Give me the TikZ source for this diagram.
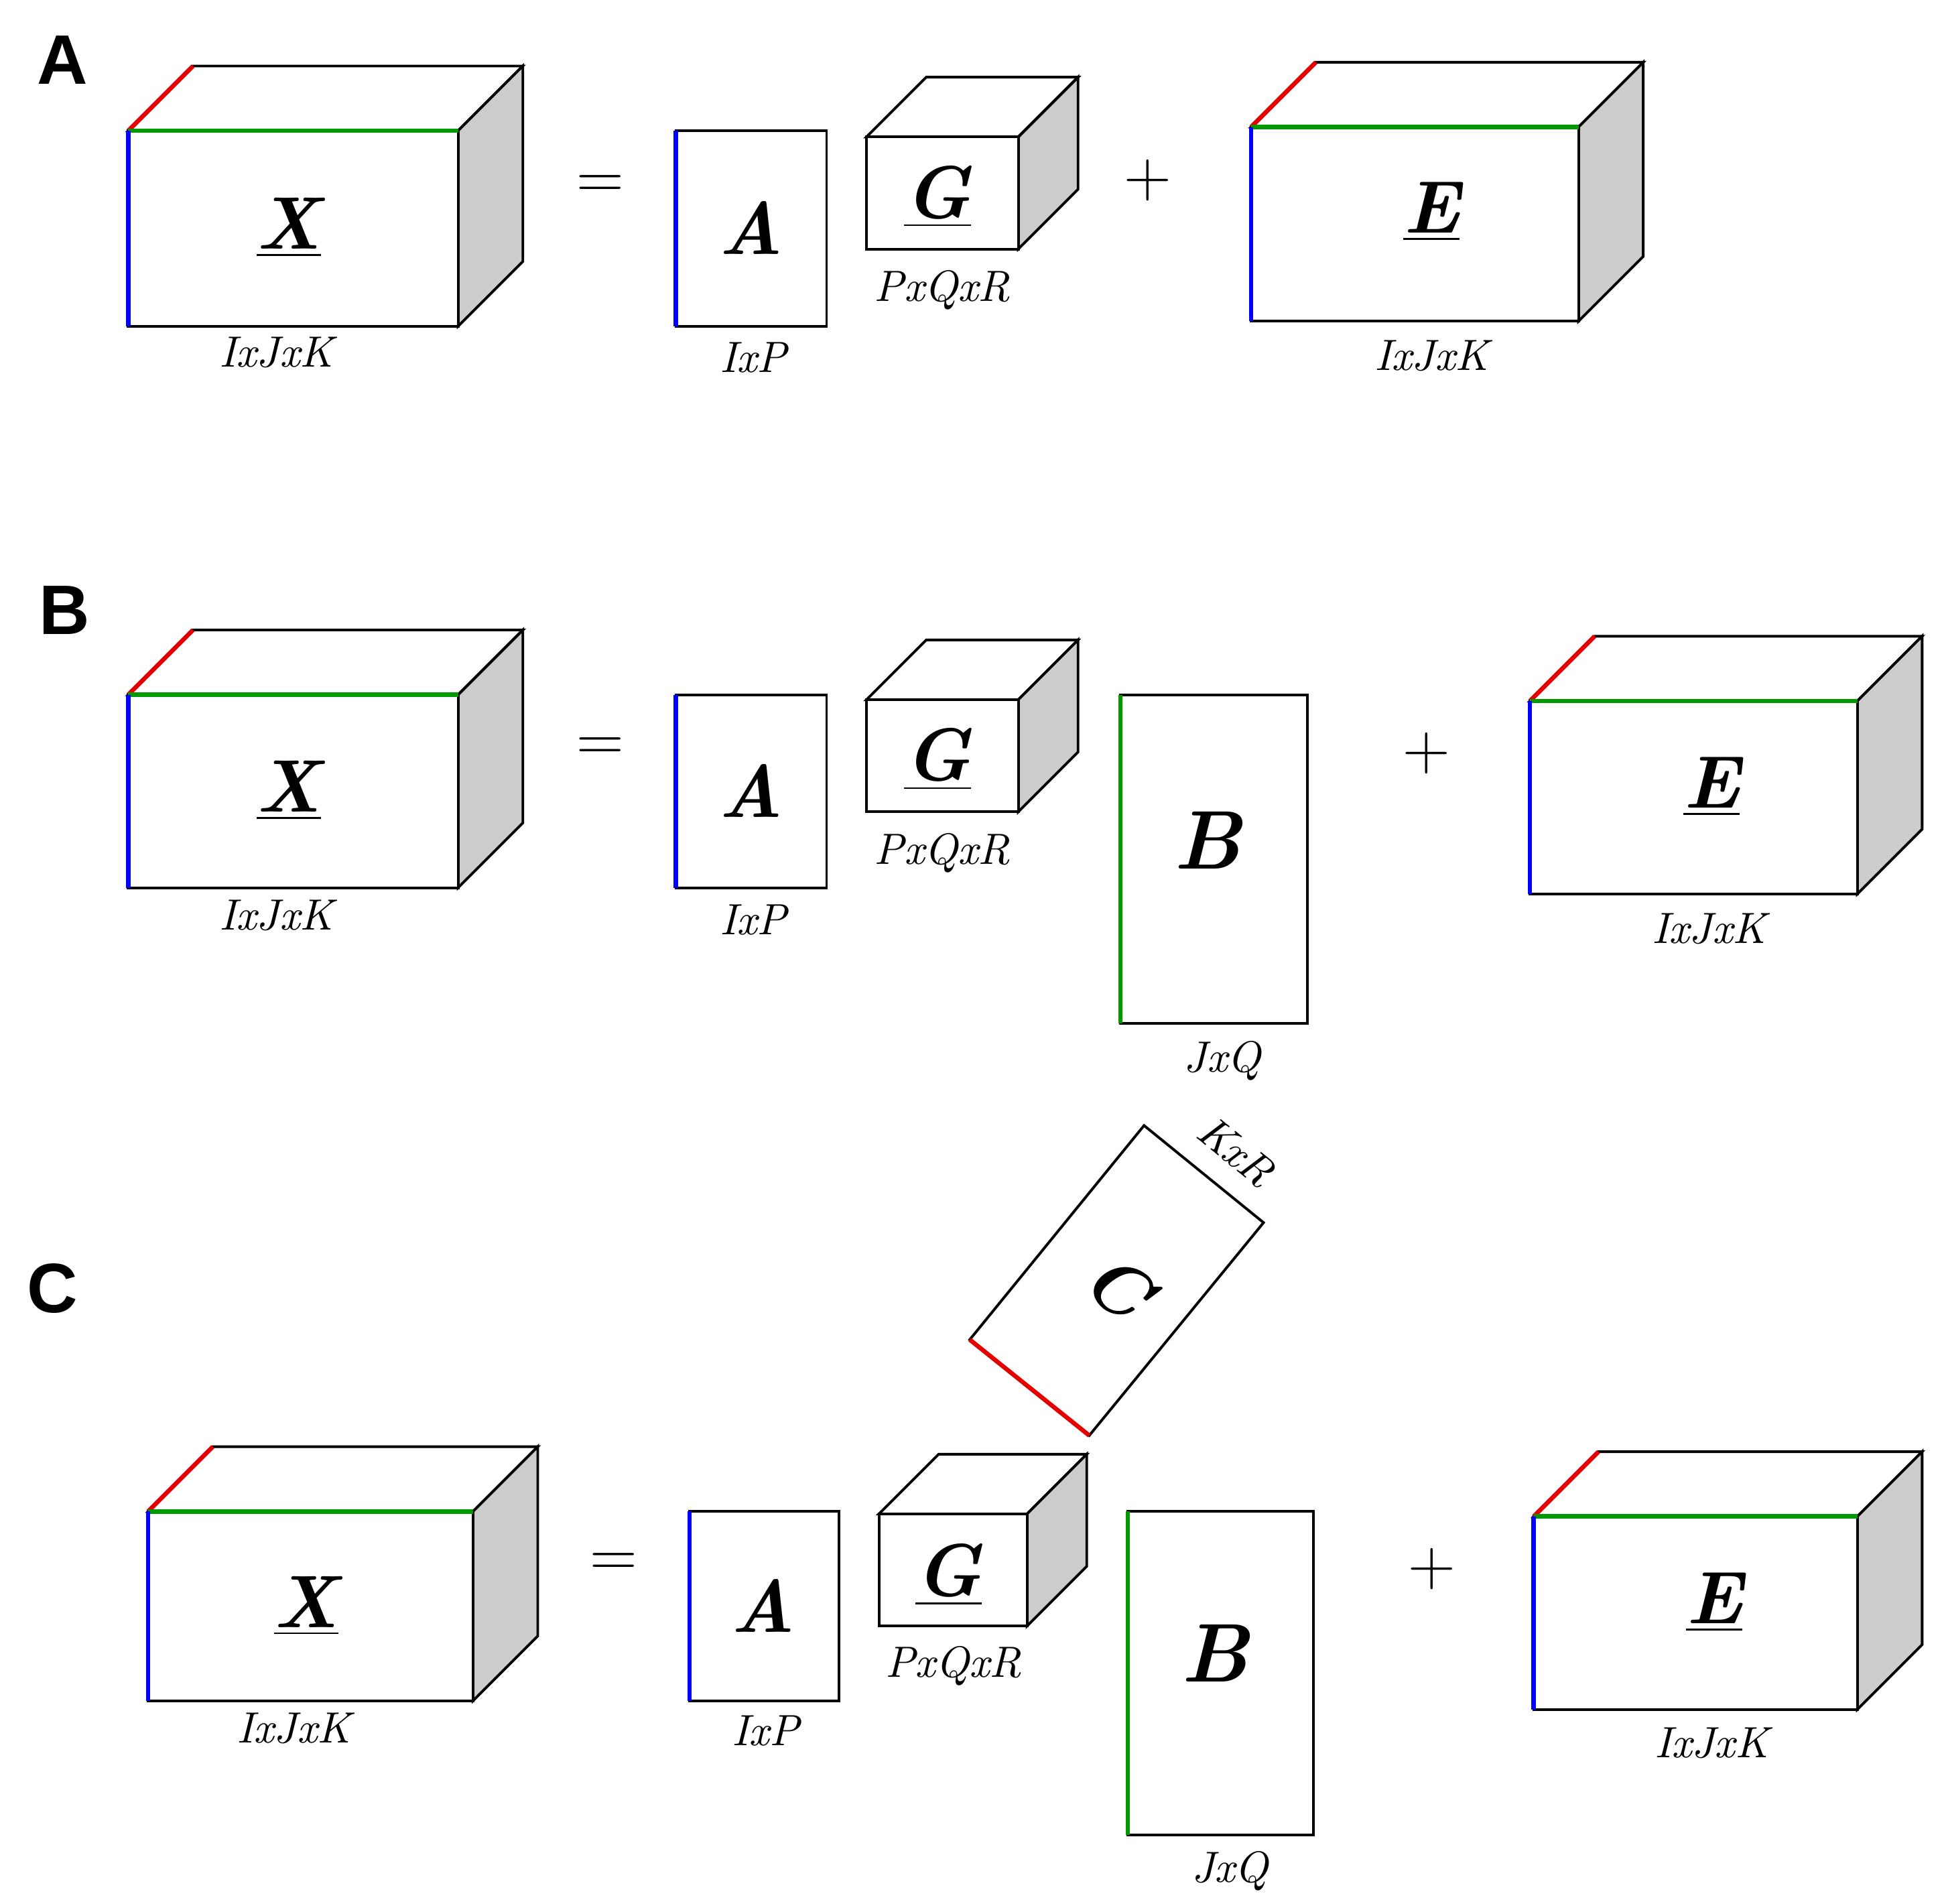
\documentclass[tikz,border=0pt]{standalone}
\usepackage{fontspec}
\newfontfamily\sansf{Liberation Sans}
\begin{document}
\begin{tikzpicture}[x=0.01cm,y=-0.01cm,line width=0.6pt,
  dim/.style={font=\fontsize{10}{12}\selectfont\itshape},
  big/.style={font=\fontsize{17}{20}\selectfont\bfseries\itshape},
  pan/.style={font=\fontsize{16}{19}\selectfont\sansf\bfseries},
  op/.style={font=\fontsize{15}{18}\selectfont},
  cr/.style={line width=1pt,red!90!black},
  cg/.style={line width=1pt,green!60!black},
  cb/.style={line width=1pt,blue}]
\useasboundingbox (0,0) rectangle (1560,1529);
\newcommand\mycube[5]{%
  \draw[fill=white] (#1,#2) -- ++(#5,-#5) -- ++(#3,0) -- ++(-#5,#5) -- cycle;
  \draw[fill=gray!40] ({#1+#3},#2) -- ++(#5,-#5) -- ++(0,#4) -- ++(-#5,#5) -- cycle;
  \draw[fill=white] (#1,#2) rectangle ++(#3,#4);}
\newcommand\colcube[5]{\mycube{#1}{#2}{#3}{#4}{#5}%
  \draw[cr] (#1,#2) -- ++(#5,-#5);
  \draw[cg] (#1,#2) -- ++(#3,0);
  \draw[cb] (#1,#2) -- ++(0,#4);}
% ---------- A
\node[pan] (pa) at (50,48) {A};
\colcube{103}{105}{265}{157}{52}
\node[big] (xa) at (232,183) {\underline{X}};
\node[dim] (xda) at (222,283) {IxJxK};
\node[op] (eqa) at (482,150) {=};
\draw (543,105) rectangle (664,262); \draw[cb] (543,105) -- (543,262);
\node[big] (aa) at (603,183) {A};
\node[dim] (ada) at (605,287) {IxP};
\mycube{696}{110}{122}{90}{48}
\node[big] (ga) at (753,158) {\underline{G}};
\node[dim] (gda) at (757,233) {PxQxR};
\node[op] (pla) at (922,145) {+};
\colcube{1005}{102}{263}{156}{52}
\node[big] (ea) at (1150,170) {\underline{E}};
\node[dim] (eda) at (1150,286) {IxJxK};
% ---------- B
\node[pan] (pb) at (52,490) {B};
\colcube{103}{558}{265}{155}{52}
\node[big] (xb) at (232,635) {\underline{X}};
\node[dim] (xdb) at (222,735) {IxJxK};
\node[op] (eqb) at (482,602) {=};
\draw (543,558) rectangle (664,713); \draw[cb] (543,558) -- (543,713);
\node[big] (ab) at (603,635) {A};
\node[dim] (adb) at (605,739) {IxP};
\mycube{696}{562}{122}{90}{48}
\node[big] (gb) at (753,610) {\underline{G}};
\node[dim] (gdb) at (757,685) {PxQxR};
\draw (900,558) rectangle (1050,822); \draw[cg] (900,558) -- (900,822);
\node[big,font=\fontsize{19}{22}\selectfont\bfseries\itshape] (bb) at (970,675) {B};
\node[dim] (bdb) at (982,852) {JxQ};
\node[op] (plb) at (1146,605) {+};
\colcube{1229}{563}{263}{155}{52}
\node[big] (eb) at (1375,632) {\underline{E}};
\node[dim] (edb) at (1373,746) {IxJxK};
% ---------- C
\node[pan] (pc) at (42,1035) {C};
\draw (919,904) -- (1015,982) -- (875,1153) -- (779,1076) -- cycle;
\draw[cr] (779,1076) -- (875,1153);
\node[big,rotate=-39] (cc) at (898,1033) {C};
\node[dim,rotate=-39] (cdc) at (993,925) {KxR};
\colcube{119}{1214}{261}{152}{52}
\node[big] (xc) at (246,1290) {\underline{X}};
\node[dim] (xdc) at (236,1388) {IxJxK};
\node[op] (eqc) at (493,1257) {=};
\draw (554,1214) rectangle (674,1366); \draw[cb] (554,1214) -- (554,1366);
\node[big] (ac) at (613,1290) {A};
\node[dim] (adc) at (615,1390) {IxP};
\mycube{706}{1216}{119}{90}{48}
\node[big] (gc) at (762,1265) {\underline{G}};
\node[dim] (gdc) at (766,1338) {PxQxR};
\draw (906,1214) rectangle (1055,1474); \draw[cg] (906,1214) -- (906,1474);
\node[big,font=\fontsize{19}{22}\selectfont\bfseries\itshape] (bc) at (976,1328) {B};
\node[dim] (bdc) at (988,1503) {JxQ};
\node[op] (plc) at (1150,1260) {+};
\colcube{1232}{1218}{260}{155}{52}
\node[big] (ec) at (1377,1287) {\underline{E}};
\node[dim] (edc) at (1375,1400) {IxJxK};
\end{tikzpicture}
\end{document}
